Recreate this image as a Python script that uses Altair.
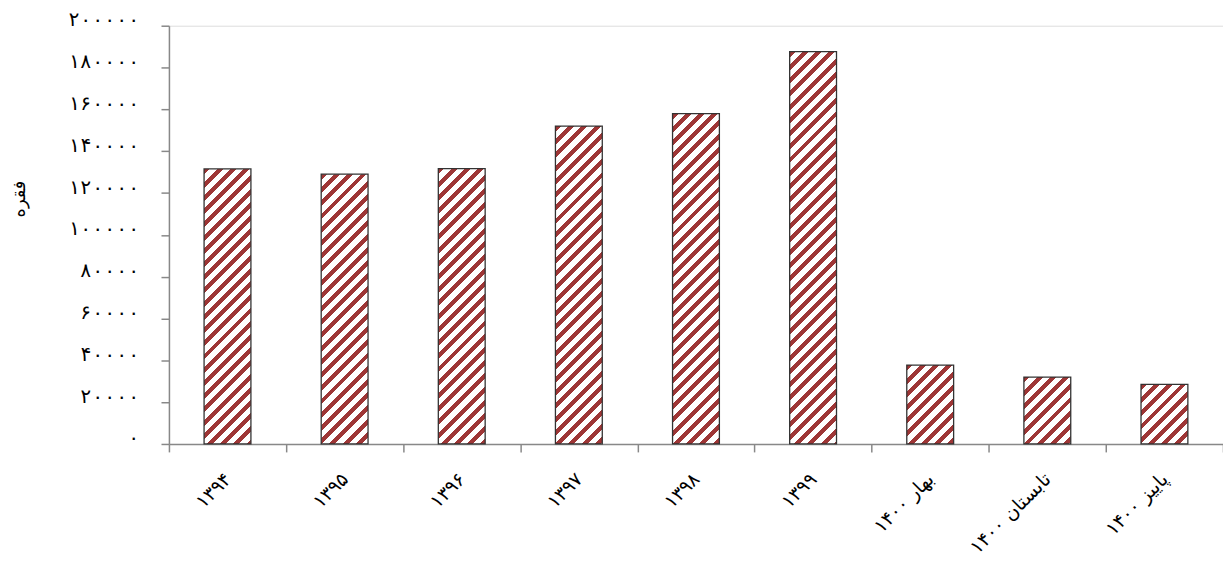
import altair as alt
import pandas as pd

# ---- data ----
categories = ["۱۳۹۴", "۱۳۹۵", "۱۳۹۶", "۱۳۹۷", "۱۳۹۸", "۱۳۹۹",
              "بهار ۱۴۰۰", "تابستان ۱۴۰۰", "پاییز ۱۴۰۰"]
values = [131500, 129000, 131700, 152000, 158000, 187600, 37700, 32000, 28500]
y_ticks = [0, 20000, 40000, 60000, 80000, 100000, 120000, 140000, 160000, 180000, 200000]
y_tick_labels = ["۰", "۲۰۰۰۰", "۴۰۰۰۰", "۶۰۰۰۰", "۸۰۰۰۰", "۱۰۰۰۰۰",
                 "۱۲۰۰۰۰", "۱۴۰۰۰۰", "۱۶۰۰۰۰", "۱۸۰۰۰۰", "۲۰۰۰۰۰"]
y_title = "فقره"

# ---- layout / style ----
W, H = 1061, 421
Y_MAX = 200000
BAR_FRAC = 0.4
RED = "#9e3636"
WHITE = "#ffffff"
MONO = "DejaVu Sans Mono"
SANS = "DejaVu Sans"

df = pd.DataFrame({"cat": categories, "val": values})

step = W / len(categories)
bar_w = step * BAR_FRAC
period = 13.3      # stripe period measured along x+y (pixels)
red_frac = 0.45


def stripe_gradient(value):
    """45-degree hatch made from a linear gradient in bounding-box units."""
    h = max(value / Y_MAX * H, 1.0)
    w = bar_w
    L = w + h
    a = L / (w * w + h * h)
    stops = []
    k = 0
    while k * period < L:
        o0 = min(k * period / L, 1.0)
        o1 = min((k + red_frac) * period / L, 1.0)
        o2 = min((k + 1) * period / L, 1.0)
        stops += [
            {"offset": o0, "color": RED},
            {"offset": o1, "color": RED},
            {"offset": o1, "color": WHITE},
            {"offset": o2, "color": WHITE},
        ]
        k += 1
    return {
        "gradient": "linear",
        "x1": 0, "y1": 0,
        "x2": w * a, "y2": h * a,
        "stops": stops,
    }


label_expr = "[" + ",".join("'%s'" % s for s in y_tick_labels) + "][round(datum.value / 20000)]"

x_enc = alt.X(
    "cat:N",
    sort=categories,
    scale=alt.Scale(paddingInner=0, paddingOuter=0),
    axis=alt.Axis(
        title=None,
        labelAngle=315,
        labelAlign="right",
        labelBaseline="middle",
        labelFont=SANS,
        labelFontSize=19,
        labelColor="#000000",
        labelPadding=24,
        tickBand="extent",
        tickSize=8,
        tickColor="#888888",
        tickWidth=1.5,
        domainColor="#888888",
        domainWidth=1.5,
        grid=False,
    ),
)

y_enc = alt.Y(
    "val:Q",
    scale=alt.Scale(domain=[0, Y_MAX], nice=False),
    axis=alt.Axis(
        title=y_title,
        titleFont=SANS,
        titleFontSize=18,
        titleFontWeight="normal",
        titleColor="#000000",
        titleX=-150,
        titleY=174,
        titleAngle=270,
        titleAlign="center",
        titleBaseline="middle",
        values=y_ticks,
        labelExpr=label_expr,
        labelFont=MONO,
        labelFontSize=20,
        labelColor="#000000",
        labelPadding=22,
        labelBaseline="alphabetic",
        labelOffset=0,
        tickSize=8,
        tickColor="#888888",
        tickWidth=1.5,
        domainColor="#888888",
        domainWidth=1.5,
        grid=False,
    ),
)

base = alt.Chart(df)
layers = []
for c, v in zip(categories, values):
    layers.append(
        base.transform_filter(alt.datum.cat == c)
        .mark_bar(fill=stripe_gradient(v), stroke="#333333", strokeWidth=1.3,
                  width=alt.RelativeBandSize(BAR_FRAC))
        .encode(x=x_enc, y=y_enc)
    )

chart = (
    alt.layer(*layers)
    .properties(
        width=W,
        height=H,
        autosize=alt.AutoSizeParams(type="none"),
        padding={"left": 162, "top": 16, "right": 0, "bottom": 119},
    )
    .configure_view(stroke=None)
    .configure(background="#ffffff")
)

chart.save("out.html", embed_options={"renderer": "svg", "actions": False})
